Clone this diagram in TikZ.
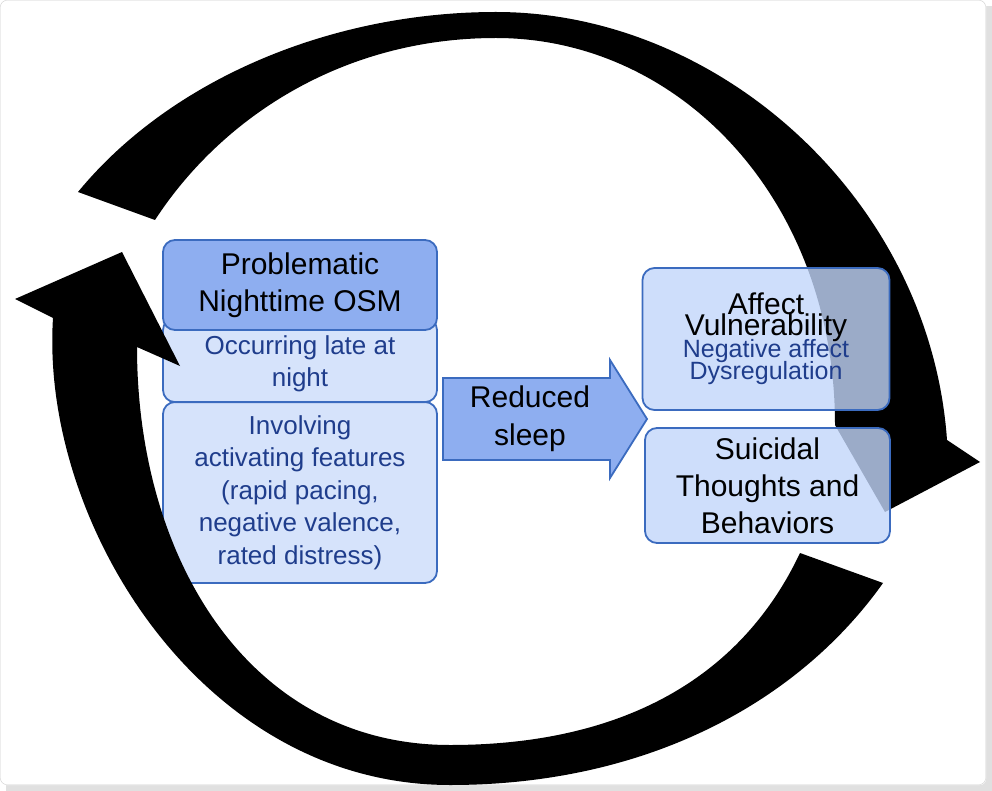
\documentclass[tikz,border=0pt]{standalone}
\usepackage{fontspec}
\setmainfont{Liberation Sans}
\definecolor{bdr}{HTML}{3B6BBF}
\definecolor{dk}{HTML}{8EAEF0}
\definecolor{lt}{HTML}{D6E3FB}
\definecolor{rb}{HTML}{C2D6FB}
\definecolor{btx}{HTML}{1F3D8C}
\tikzset{
  box/.style={draw=bdr,line width=1.8pt,rounded corners=12pt,align=center,inner sep=0pt},
  head/.style={font=\fontsize{30}{37}\selectfont,text=black},
  sub/.style={font=\fontsize{26}{32.5}\selectfont,text=btx},
  band/.style={fill=black}
}
\begin{document}
\begin{tikzpicture}[x=1pt,y=-1pt]
\useasboundingbox (0,0) rectangle (992,791);
% frame with shadow
\fill[black!12] (6,6) rectangle (992,791);
\fill[white,rounded corners=6pt] (0,0) rectangle (986,785);
\draw[black!20,rounded corners=6pt] (0.5,0.5) rectangle (985.5,784.5);
% left stack
\node[box,fill=lt,minimum width=274pt,minimum height=181pt,sub] (inv) at (300,492.5)
  {Involving\\activating features\\(rapid pacing,\\negative valence,\\rated distress)};
\node[box,fill=lt,minimum width=274pt,minimum height=84pt,sub,anchor=south] (occ) at (300,403)
  {\\[-6pt]Occurring late at\\night};
\node[box,fill=dk,minimum width=274pt,minimum height=90pt,head] (prob) at (300,285)
  {Problematic\\Nighttime OSM};
% top arrow
\fill[band] (78,192) .. controls (170,80) and (330,12) .. (496,12)
  .. controls (720,12) and (930,200) .. (947,440)
  -- (980,462) -- (885,512) -- (835,425)
  .. controls (835,200) and (680,38) .. (496,38)
  .. controls (340,38) and (220,120) .. (155,220) -- cycle;
% bottom arrow
\fill[band] (122,252) -- (180,366) -- (137,347)
  .. controls (137,560) and (250,745) .. (450,745)
  .. controls (620,745) and (740,680) .. (800,553)
  -- (883,583)
  .. controls (800,700) and (650,785) .. (450,785)
  .. controls (200,785) and (40,520) .. (53,318)
  -- (15,299) -- cycle;
% reduced sleep arrow
\draw[bdr,line width=1.8pt,fill=dk] (443,378) -- (610,378) -- (610,360) -- (647,419)
  -- (610,478) -- (610,460) -- (443,460) -- cycle;
\node[align=center,font=\fontsize{30}{38}\selectfont] (rst) at (530,419) {Reduced\\sleep};
% right boxes
\node[box,fill=rb,fill opacity=0.8,text opacity=1,minimum width=247pt,minimum height=142pt] (aff) at (766,339)
  {{\fontsize{30}{35}\selectfont Affect}\\[-2pt]
   {\fontsize{30}{35}\selectfont Vulnerability}\\[-4pt]
   {\color{btx}\fontsize{25}{31}\selectfont Negative affect}\\[-2pt]
   {\color{btx}\fontsize{25}{31}\selectfont Dysregulation}};
\node[box,fill=rb,fill opacity=0.8,text opacity=1,minimum width=245pt,minimum height=115pt,head] (sui) at (767.5,485.5)
  {Suicidal\\Thoughts and\\Behaviors};
\end{tikzpicture}
\end{document}
